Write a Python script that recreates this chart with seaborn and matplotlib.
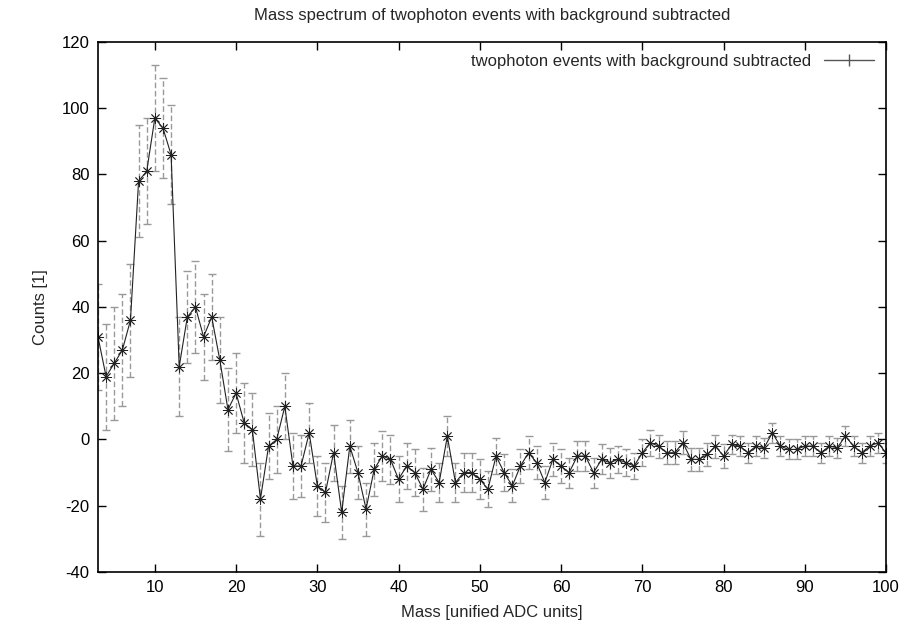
import numpy as np
import pandas as pd
import matplotlib
matplotlib.use("Agg")
import matplotlib.pyplot as plt
from matplotlib.lines import Line2D
import seaborn as sns

# mass bins (unified ADC units)
mass = list(range(3, 101))

counts = [31, 19, 23, 27, 36, 78, 81, 97, 94, 86,
          22, 37, 40, 31, 37, 24, 9, 14, 5, 3,
          -18, -2, 0, 10, -8, -8, 2, -14, -16, -4,
          -22, -2, -10, -21, -9, -5, -6, -12, -8, -10,
          -15, -9, -13, 1, -13, -10, -10, -12, -15, -5,
          -10, -14, -8, -4, -7, -13, -6, -8, -10, -5,
          -5, -10, -6, -7, -6, -7, -8, -4, -1, -2,
          -4, -4, -1, -6, -6, -4.5, -2, -5, -1.5, -2,
          -4, -2, -2.5, 2, -2, -3, -3, -2, -2, -4,
          -2, -2.5, 1, -2, -4, -2, -1, -4]

errors = [16, 16, 17, 17, 17, 17, 16, 16, 15, 15,
          15, 14, 14, 13, 13, 13, 12.5, 12, 12, 11,
          11, 10, 10, 10, 10, 9.5, 9, 9, 9, 8.5,
          8, 8, 8, 8, 8, 7.5, 7.5, 7, 7, 7,
          6.5, 6.5, 6, 6, 6, 6, 6, 6, 5.5, 5.5,
          5.5, 5, 5, 5, 5, 5, 5, 5, 4.5, 4.5,
          4.5, 4.5, 4.5, 4.5, 4, 4, 4, 4, 4, 3.5,
          3.5, 3.5, 3.5, 3.5, 3.5, 3.5, 3.5, 3.5, 3, 3,
          3, 3, 3, 3, 3, 3, 3, 3, 3, 3,
          3, 3, 3, 3, 3, 3, 3, 3]

label = "twophoton events with background subtracted"

df = pd.DataFrame({"mass": mass, "counts": counts, "err": errors})

sns.set_theme(style="ticks")
plt.rcParams['font.family'] = ['Liberation Sans', 'DejaVu Sans']
plt.rcParams['font.size'] = 12
plt.rcParams['axes.unicode_minus'] = False

fig = plt.figure(figsize=(9.19, 6.26), dpi=100)
ax = fig.add_axes([0.1066, 0.0863, 0.8575, 0.8466])

ax.errorbar(df["mass"], df["counts"], yerr=df["err"], fmt="none",
            ecolor="#999999", elinewidth=1, capsize=3, capthick=1,
            zorder=1)
for coll in ax.collections:
    coll.set_linestyle((0, (4, 2)))

sns.lineplot(data=df, x="mass", y="counts", ax=ax, color="#222222",
             linewidth=0.8, marker=(8, 2, 0), markersize=8,
             markeredgewidth=0.6, markeredgecolor="#222222", zorder=2)

ax.set_xlim(3, 100)
ax.set_ylim(-40, 120)
ax.set_xticks(range(10, 101, 10))
ax.set_yticks(range(-40, 121, 20))
ax.tick_params(direction="in", top=True, right=True, length=6, width=1,
               labelsize=12, colors="black", pad=6)
for s in ax.spines.values():
    s.set_linewidth(1.2)
    s.set_color("black")

ax.set_xlabel("Mass [unified ADC units]", fontsize=12, labelpad=7)
ax.set_ylabel("Counts [1]", fontsize=12, labelpad=10)
ax.set_title("Mass spectrum of twophoton events with background subtracted",
             fontsize=12, pad=16)

handle = Line2D([], [], color="#555555", linewidth=1, marker="|",
                markersize=9, markeredgecolor="#555555")
ax.legend([handle], [label], loc="upper right", frameon=False,
          markerfirst=False, fontsize=12, handlelength=3,
          borderaxespad=0.3)

fig.savefig("out.png", dpi=100)
